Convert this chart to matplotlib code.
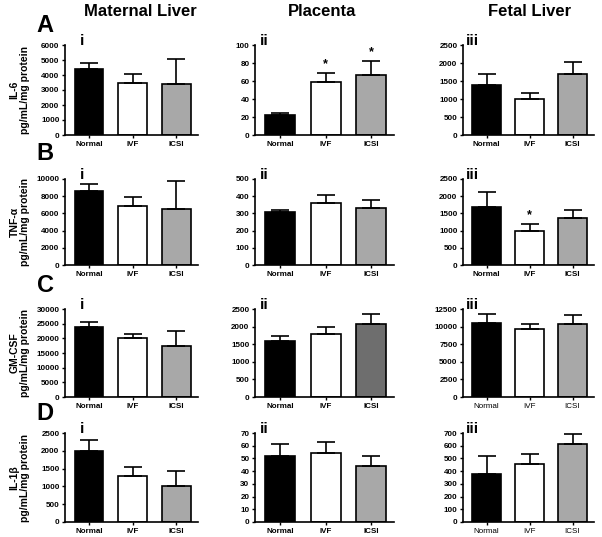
import matplotlib
matplotlib.use("Agg")
import matplotlib.pyplot as plt

plt.rcParams['font.family'] = ['Liberation Sans', 'DejaVu Sans']

groups = ["Normal", "IVF", "ICSI"]
col_titles = ["Maternal Liver", "Placenta", "Fetal Liver"]
row_letters = ["A", "B", "C", "D"]
row_ylabels = ["IL-6\npg/mL/mg protein", "TNF-α\npg/mL/mg protein",
               "GM-CSF\npg/mL/mg protein", "IL-1β\npg/mL/mg protein"]
panel_tags = ["i", "ii", "iii"]

# IL-6
il6_means = [[4400, 3450, 3400], [22, 59, 67], [1380, 1000, 1700]]
il6_err = [[400, 600, 1700], [2, 10, 15], [320, 180, 340]]
il6_ymax = [6000, 100, 2500]
il6_step = [1000, 20, 500]
il6_stars = [[], [1, 2], []]
# TNF-alpha
tnf_means = [[8550, 6900, 6500], [308, 358, 333], [1700, 1000, 1380]]
tnf_err = [[850, 950, 3300], [10, 48, 42], [420, 190, 220]]
tnf_ymax = [10000, 500, 2500]
tnf_step = [2000, 100, 500]
tnf_stars = [[], [], [1]]
# GM-CSF
gm_means = [[24000, 20000, 17500], [1600, 1800, 2080], [10500, 9700, 10400]]
gm_err = [[1500, 1600, 5000], [120, 200, 270], [1300, 700, 1300]]
gm_ymax = [30000, 2500, 12500]
gm_step = [5000, 500, 2500]
gm_stars = [[], [], []]
# IL-1beta
il1_means = [[2000, 1280, 1000], [52, 54, 44], [380, 460, 615]]
il1_err = [[300, 260, 430], [9, 9, 8], [140, 75, 75]]
il1_ymax = [2500, 70, 700]
il1_step = [500, 10, 100]
il1_stars = [[], [], []]

rows = [
    (il6_means, il6_err, il6_ymax, il6_step, il6_stars),
    (tnf_means, tnf_err, tnf_ymax, tnf_step, tnf_stars),
    (gm_means, gm_err, gm_ymax, gm_step, gm_stars),
    (il1_means, il1_err, il1_ymax, il1_step, il1_stars),
]

W, H = 602, 537
fig = plt.figure(figsize=(W / 100, H / 100), dpi=100)

col_x = [(65, 198), (255, 394), (463, 594)]
row_y = [(45, 135), (179, 265), (309, 397), (433, 522)]

base_colors = ["black", "white", "#a8a8a8"]

for r, (means, errs, ymaxs, steps, stars) in enumerate(rows):
    for c in range(3):
        x0, x1 = col_x[c]
        yt, yb = row_y[r]
        ax = fig.add_axes([x0 / W, 1 - yb / H, (x1 - x0) / W, (yb - yt) / H])
        colors = list(base_colors)
        if r == 2 and c == 1:
            colors[2] = "#6e6e6e"
        xs = list(range(3))
        ax.bar(xs, means[c], width=0.66, color=colors, edgecolor="black",
               linewidth=1.2, zorder=2)
        ax.errorbar(xs, means[c], yerr=[[0, 0, 0], errs[c]], fmt="none",
                    ecolor="black", elinewidth=1.2, capsize=6.5, capthick=1.2,
                    zorder=3)
        for s in stars[c]:
            ax.text(s, means[c][s] + errs[c][s] + ymaxs[c] * 0.03, "*",
                    ha="center", va="bottom", fontsize=9, fontweight="bold")
        ax.set_xlim(-0.55, 2.5)
        ax.set_ylim(0, ymaxs[c])
        ticks = list(range(0, ymaxs[c] + 1, steps[c]))
        ax.set_yticks(ticks)
        ax.set_xticks(xs)
        light = (c == 2 and r >= 2)
        ax.set_xticklabels(groups, fontsize=5.8,
                           fontweight="normal" if light else "bold")
        for lab in ax.get_yticklabels():
            lab.set_fontsize(5.8)
            lab.set_fontweight("bold")
        ax.tick_params(axis="both", length=2.5, width=1.0, pad=1.5)
        for sp in ["top", "right"]:
            ax.spines[sp].set_visible(False)
        for sp in ["left", "bottom"]:
            ax.spines[sp].set_linewidth(1.2)
        # panel tag
        tx = 82 if c == 0 else x0 + 9
        fig.text(tx / W, 1 - (yt - 4) / H, panel_tags[c], ha="center",
                 va="center", fontsize=11, fontweight="bold")

    # row letter
    fig.text(45 / W, 1 - [25, 153, 285, 413][r] / H, row_letters[r],
             ha="center", va="center", fontsize=17, fontweight="bold")
    # y label
    fig.text(20 / W, 1 - ((row_y[r][0] + row_y[r][1]) / 2) / H, row_ylabels[r],
             ha="center", va="center", rotation=90, fontsize=7.5,
             fontweight="bold", linespacing=1.1)

for c, title in enumerate(col_titles):
    cx = [140, 322, 530][c]
    fig.text(cx / W, 1 - 12 / H, title, ha="center", va="center",
             fontsize=12, fontweight="bold")

fig.savefig("out.png", dpi=100)
